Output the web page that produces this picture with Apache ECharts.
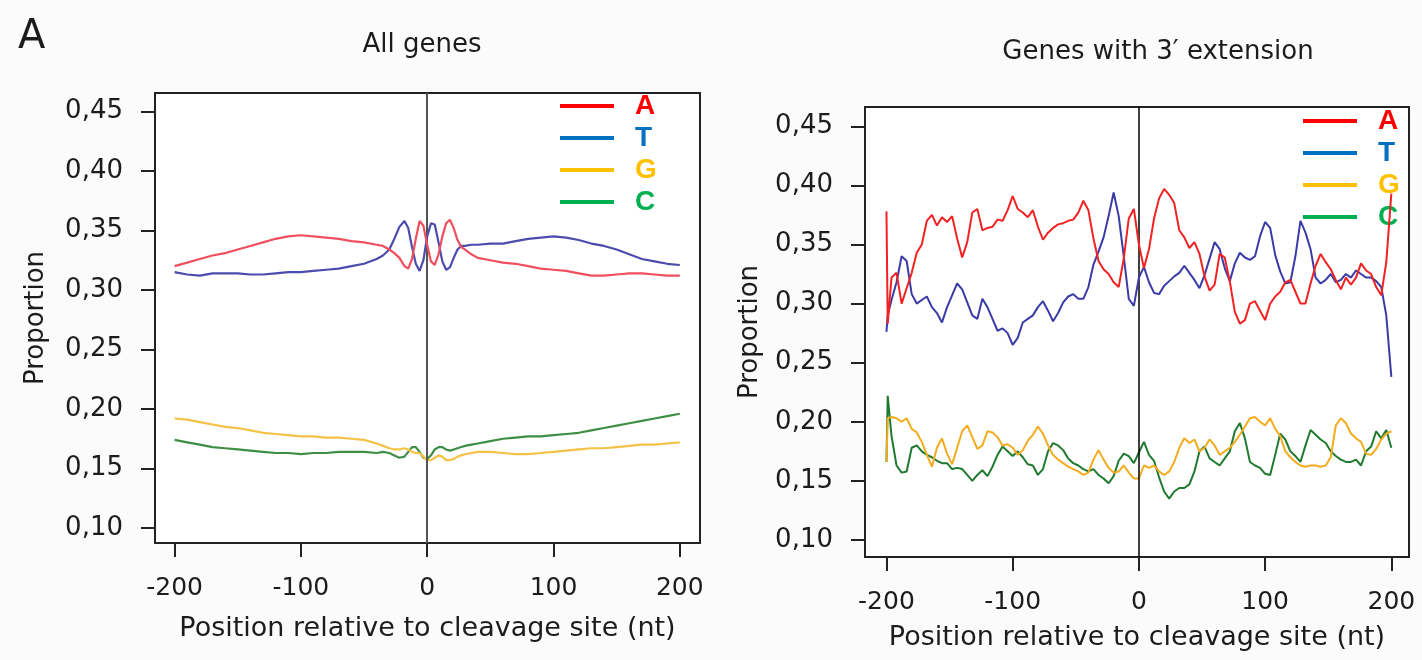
<!DOCTYPE html>
<html>
<head>
<meta charset="utf-8">
<title>Nucleotide proportion around the cleavage site</title>
<script src="https://cdn.jsdelivr.net/npm/echarts@6.0.0/dist/echarts.min.js"></script>
<style>
  html, body { margin: 0; padding: 0; background: #fbfbfb; }
  #chart { width: 1422px; height: 660px; }
</style>
</head>
<body>
<div id="chart"></div>
<script>
// bases and legend colours
const bases = ['A', 'T', 'G', 'C']
const legendColors = ['#ff0000', '#0070c0', '#ffc000', '#00b050']
const xTicks = [-200, -100, 0, 100, 200]
const yTicks = [0.10, 0.15, 0.20, 0.25, 0.30, 0.35, 0.40, 0.45]

// left panel: all genes
const leftPos = [-200, -190, -180, -170, -160, -150, -140, -130, -120, -110, -100, -90, -80, -70, -60, -50, -40,
  -35, -30, -26, -22, -18, -15, -12, -9, -6, -3, 0, 3, 6, 9, 12, 15, 18, 21, 24, 27, 30, 35,
  40, 50, 60, 70, 80, 90, 100, 110, 120, 130, 140, 150, 160, 170, 180, 190, 200]
const leftA = [0.320, 0.323, 0.326, 0.329, 0.331, 0.334, 0.337, 0.340, 0.343, 0.345, 0.346, 0.345, 0.344, 0.343, 0.341, 0.340, 0.338,
  0.337, 0.334, 0.331, 0.327, 0.320, 0.318, 0.326, 0.343, 0.358, 0.354, 0.338, 0.324, 0.321, 0.330, 0.345, 0.356, 0.359, 0.352, 0.342, 0.336, 0.334, 0.330,
  0.327, 0.325, 0.323, 0.322, 0.320, 0.318, 0.317, 0.316, 0.314, 0.312, 0.312, 0.313, 0.314, 0.314, 0.313, 0.312, 0.312]
const leftT = [0.315, 0.313, 0.312, 0.314, 0.314, 0.314, 0.313, 0.313, 0.314, 0.315, 0.315, 0.316, 0.317, 0.318, 0.320, 0.322, 0.326,
  0.329, 0.334, 0.343, 0.353, 0.358, 0.352, 0.336, 0.322, 0.316, 0.325, 0.345, 0.356, 0.355, 0.340, 0.324, 0.317, 0.319, 0.327, 0.334, 0.337, 0.337, 0.338,
  0.338, 0.339, 0.339, 0.341, 0.343, 0.344, 0.345, 0.344, 0.342, 0.339, 0.337, 0.334, 0.330, 0.326, 0.324, 0.322, 0.321]
const leftG = [0.192, 0.191, 0.189, 0.187, 0.185, 0.184, 0.182, 0.180, 0.179, 0.178, 0.177, 0.177, 0.176, 0.176, 0.175, 0.174, 0.171,
  0.169, 0.167, 0.166, 0.166, 0.167, 0.166, 0.164, 0.163, 0.163, 0.160, 0.157, 0.157, 0.159, 0.161, 0.160, 0.157, 0.157, 0.158, 0.160, 0.161, 0.162, 0.163,
  0.164, 0.164, 0.163, 0.162, 0.162, 0.163, 0.164, 0.165, 0.166, 0.167, 0.167, 0.168, 0.169, 0.170, 0.170, 0.171, 0.172]
const leftC = [0.174, 0.172, 0.170, 0.168, 0.167, 0.166, 0.165, 0.164, 0.163, 0.163, 0.162, 0.163, 0.163, 0.164, 0.164, 0.164, 0.163,
  0.164, 0.163, 0.161, 0.159, 0.160, 0.164, 0.168, 0.168, 0.164, 0.159, 0.158, 0.161, 0.166, 0.168, 0.168, 0.166, 0.165, 0.166, 0.167, 0.168, 0.169, 0.170,
  0.171, 0.173, 0.175, 0.176, 0.177, 0.177, 0.178, 0.179, 0.180, 0.182, 0.184, 0.186, 0.188, 0.190, 0.192, 0.194, 0.196]

// right panel: genes with 3' extension
const rightPos = [-200, -199, -196, -192, -188, -184, -180, -176, -172, -168, -164, -160, -156, -152, -148, -144, -140, -136, -132, -128,
  -124, -120, -116, -112, -108, -104, -100, -96, -92, -88, -84, -80, -76, -72, -68, -64, -60, -56, -52, -48, -44, -40,
  -36, -32, -28, -24, -20, -16, -12, -8, -4, 0, 4, 8, 12, 16, 20, 24, 28, 32, 36, 40, 44, 48, 52, 56, 60, 64, 68, 72,
  76, 80, 84, 88, 92, 96, 100, 104, 108, 112, 116, 120, 124, 128, 132, 136, 140, 144, 148, 152, 156, 160, 164, 168,
  172, 176, 180, 184, 188, 192, 196, 200]
const rightA = [0.378, 0.283, 0.322, 0.326, 0.300, 0.313, 0.326, 0.343, 0.350, 0.370, 0.375, 0.366, 0.373, 0.369, 0.374, 0.355, 0.339, 0.352, 0.377, 0.380,
  0.362, 0.364, 0.365, 0.371, 0.370, 0.379, 0.391, 0.380, 0.377, 0.373, 0.379, 0.365, 0.354, 0.360, 0.364, 0.367, 0.368, 0.370, 0.371, 0.377, 0.387, 0.379,
  0.355, 0.336, 0.329, 0.325, 0.318, 0.314, 0.338, 0.372, 0.380, 0.350, 0.330, 0.346, 0.372, 0.389, 0.397, 0.392, 0.385, 0.362, 0.356, 0.347, 0.352, 0.342, 0.323, 0.311, 0.316, 0.342, 0.339, 0.319,
  0.293, 0.283, 0.286, 0.300, 0.302, 0.294, 0.286, 0.300, 0.306, 0.310, 0.318, 0.320, 0.310, 0.300, 0.300, 0.317, 0.332, 0.342, 0.335, 0.329, 0.320, 0.312, 0.322, 0.316,
  0.322, 0.334, 0.328, 0.325, 0.314, 0.307, 0.335, 0.393]
const rightT = [0.276, 0.290, 0.303, 0.318, 0.340, 0.336, 0.308, 0.300, 0.303, 0.306, 0.297, 0.292, 0.284, 0.297, 0.307, 0.317, 0.312, 0.301, 0.290, 0.287,
  0.304, 0.297, 0.287, 0.277, 0.279, 0.275, 0.265, 0.271, 0.284, 0.287, 0.290, 0.297, 0.302, 0.294, 0.285, 0.292, 0.301, 0.306, 0.308, 0.304, 0.304, 0.314,
  0.333, 0.344, 0.356, 0.374, 0.394, 0.374, 0.340, 0.304, 0.298, 0.322, 0.331, 0.318, 0.309, 0.308, 0.315, 0.319, 0.323, 0.326, 0.332, 0.326, 0.320, 0.313, 0.324, 0.338, 0.352, 0.346, 0.330, 0.319,
  0.334, 0.343, 0.339, 0.337, 0.340, 0.357, 0.369, 0.364, 0.341, 0.327, 0.317, 0.318, 0.340, 0.370, 0.360, 0.346, 0.322, 0.317, 0.320, 0.325, 0.318, 0.320, 0.325, 0.322,
  0.328, 0.325, 0.322, 0.322, 0.319, 0.314, 0.290, 0.238]
const rightG = [0.166, 0.203, 0.204, 0.203, 0.200, 0.203, 0.194, 0.191, 0.183, 0.172, 0.162, 0.178, 0.186, 0.173, 0.164, 0.178, 0.192, 0.197, 0.187, 0.177,
  0.180, 0.192, 0.191, 0.187, 0.180, 0.181, 0.178, 0.172, 0.176, 0.184, 0.189, 0.196, 0.190, 0.180, 0.172, 0.168, 0.165, 0.162, 0.160, 0.158, 0.155, 0.157,
  0.168, 0.176, 0.168, 0.161, 0.157, 0.158, 0.163, 0.157, 0.152, 0.152, 0.163, 0.161, 0.163, 0.158, 0.155, 0.158, 0.166, 0.178, 0.186, 0.182, 0.185, 0.175, 0.178, 0.185, 0.180, 0.172, 0.175, 0.178,
  0.183, 0.189, 0.196, 0.203, 0.204, 0.200, 0.197, 0.203, 0.194, 0.188, 0.175, 0.170, 0.166, 0.163, 0.162, 0.163, 0.163, 0.162, 0.163, 0.170, 0.197, 0.203, 0.199, 0.190,
  0.186, 0.183, 0.173, 0.172, 0.177, 0.185, 0.190, 0.192]
const rightC = [0.166, 0.222, 0.188, 0.163, 0.157, 0.158, 0.178, 0.180, 0.175, 0.172, 0.170, 0.167, 0.165, 0.165, 0.160, 0.161, 0.160, 0.155, 0.150, 0.155,
  0.159, 0.154, 0.162, 0.172, 0.179, 0.175, 0.171, 0.175, 0.170, 0.164, 0.163, 0.155, 0.160, 0.175, 0.182, 0.180, 0.176, 0.169, 0.165, 0.163, 0.160, 0.158,
  0.160, 0.155, 0.152, 0.148, 0.154, 0.167, 0.173, 0.171, 0.165, 0.174, 0.183, 0.172, 0.167, 0.153, 0.141, 0.135, 0.141, 0.144, 0.144, 0.147, 0.158, 0.175, 0.179, 0.169, 0.166, 0.163, 0.169, 0.175,
  0.192, 0.199, 0.186, 0.166, 0.163, 0.161, 0.156, 0.155, 0.172, 0.190, 0.185, 0.175, 0.171, 0.166, 0.180, 0.193, 0.189, 0.185, 0.182, 0.175, 0.171, 0.168, 0.166, 0.166,
  0.168, 0.163, 0.175, 0.179, 0.192, 0.186, 0.193, 0.178]

const leftColors = ['#ef4f5e', '#4c4cae', '#f3c246', '#3e8e46']
const rightColors = ['#f22222', '#3b3ba8', '#f2ac1e', '#1f7a30']
const textColor = '#1c1c1c'
const font = 'DejaVu Sans'

function pairs(pos, vals) {
  return pos.map((x, i) => [x, vals[i]])
}

function xAxis(gridIndex, min, max, gap) {
  return {
    type: 'value',
    gridIndex: gridIndex,
    min: min,
    max: max,
    name: 'Position relative to cleavage site (nt)',
    nameLocation: 'middle',
    nameGap: gap,
    nameTextStyle: { fontSize: 27, color: textColor, fontFamily: font },
    axisLine: { show: false, onZero: false },
    splitLine: { show: false },
    axisTick: { show: true, customValues: xTicks, length: 14, lineStyle: { color: '#222', width: 2 } },
    axisLabel: { customValues: xTicks, margin: 33, fontSize: 25, color: textColor, fontFamily: font },
  }
}

function yAxis(gridIndex, min, max, gap) {
  return {
    type: 'value',
    gridIndex: gridIndex,
    min: min,
    max: max,
    name: 'Proportion',
    nameLocation: 'middle',
    nameGap: gap,
    nameTextStyle: { fontSize: 26, color: textColor, fontFamily: font },
    axisLine: { show: false, onZero: false },
    splitLine: { show: false },
    axisTick: { show: true, customValues: yTicks, length: 14, lineStyle: { color: '#222', width: 2 } },
    axisLabel: {
      customValues: yTicks,
      margin: 32,
      fontSize: 26,
      color: textColor,
      fontFamily: font,
      formatter: (v) => v.toFixed(2).replace('.', ','),
    },
  }
}

function legend(left, top) {
  return {
    orient: 'vertical',
    left: left,
    top: top,
    padding: 0,
    icon: 'rect',
    itemWidth: 54,
    itemHeight: 4,
    itemGap: 2,
    selectedMode: false,
    textStyle: { fontSize: 28, fontWeight: 'bold', fontFamily: 'Liberation Sans', lineHeight: 30, padding: [0, 0, 0, 16] },
    data: bases.map((b, i) => ({
      name: b,
      itemStyle: { color: legendColors[i] },
      textStyle: { color: legendColors[i] },
    })),
  }
}

function panelSeries(idx, pos, lists, colors, width, zeroColor, zeroWidth) {
  return lists.map((vals, i) => {
    const s = {
      name: bases[i],
      type: 'line',
      xAxisIndex: idx,
      yAxisIndex: idx,
      symbol: 'none',
      showSymbol: false,
      z: 3 + (3 - i),
      lineStyle: { color: colors[i], width: width },
      itemStyle: { color: colors[i] },
      data: pairs(pos, vals),
    }
    if (i === 0) {
      s.markLine = {
        silent: true,
        symbol: ['none', 'none'],
        label: { show: false },
        lineStyle: { type: 'solid', color: zeroColor, width: zeroWidth },
        data: [{ xAxis: 0 }],
      }
    }
    return s
  })
}

const chart = echarts.init(document.getElementById('chart'))
const option = {
  animation: false,
  backgroundColor: '#fbfbfb',
  title: [
    { text: 'A', left: 18, top: 18, padding: 0, textStyle: { fontSize: 40, fontWeight: 'normal', fontFamily: font, color: textColor } },
    { text: 'All genes', left: 422, top: 32, padding: 0, textAlign: 'center', textStyle: { fontSize: 26, fontWeight: 'normal', fontFamily: font, color: textColor } },
    { text: 'Genes with 3′ extension', left: 1158, top: 39, padding: 0, textAlign: 'center', textStyle: { fontSize: 26, fontWeight: 'normal', fontFamily: font, color: textColor } },
  ],
  legend: [legend(560, 91), legend(1303, 106)],
  grid: [
    { left: 155, top: 93, width: 545, height: 450, show: true, backgroundColor: '#fff', borderColor: '#222', borderWidth: 2 },
    { left: 865, top: 107, width: 544, height: 450, show: true, backgroundColor: '#fff', borderColor: '#222', borderWidth: 2 },
  ],
  xAxis: [xAxis(0, -215.5, 216, 72), xAxis(1, -217, 214, 67)],
  yAxis: [yAxis(0, 0.0874, 0.4655, 106), yAxis(1, 0.0856, 0.4663, 102)],
  series: [
    ...panelSeries(0, leftPos, [leftA, leftT, leftG, leftC], leftColors, 2.2, '#555', 2),
    ...panelSeries(1, rightPos, [rightA, rightT, rightG, rightC], rightColors, 2, '#000', 1.5),
  ],
}
chart.setOption(option)
</script>
</body>
</html>
